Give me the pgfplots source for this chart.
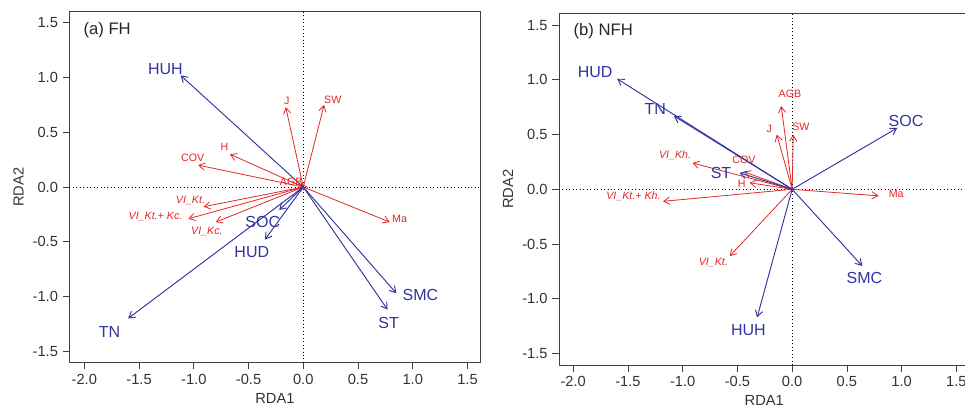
\documentclass[border=0pt]{standalone}
\usepackage{fontspec}
\setmainfont{Liberation Sans}
\usepackage{pgfplots}
\pgfplotsset{compat=1.18}
\usetikzlibrary{arrows.meta}
\definecolor{envblue}{RGB}{50,50,160}
\definecolor{vegred}{RGB}{228,38,38}

\pgfplotsset{
  rda/.style={
    x=82.1pt, y=82.1pt,
    xmin=-2.137, xmax=1.62, ymin=-1.605, ymax=1.605,
    xtick={-2,-1.5,...,1.5}, ytick={-1.5,-1,...,1.5},
    tick align=outside, xtick pos=bottom, ytick pos=left,
    major tick length=5pt,
    axis line style={black!75, line width=0.6pt},
    tick style={black!75, line width=0.6pt},
    tick label style={font=\fontsize{11}{13}\selectfont, text=black!80},
    label style={font=\fontsize{11}{13}\selectfont, text=black!80},
    /pgf/number format/fixed, /pgf/number format/fixed zerofill,
    /pgf/number format/precision=1, /pgf/number format/assume math mode=true,
    xlabel={RDA1}, ylabel={RDA2},
    clip=false,
  },
  env/.style={envblue, line width=0.7pt, -{Straight Barb[length=4.5pt,width=5.5pt]}},
  veg/.style={vegred, line width=0.6pt, -{Straight Barb[length=4.5pt,width=5.5pt]}},
  zero/.style={black, dotted, line width=0.6pt},
}
\newcommand{\envlab}[3]{\node[text=envblue, font=\fontsize{12}{14}\selectfont] at (axis cs:#1,#2) {#3};}
\newcommand{\veglab}[3]{\node[text=vegred, font=\fontsize{8}{10}\selectfont] at (axis cs:#1,#2) {#3};}

\begin{document}
\begin{tikzpicture}
\path[use as bounding box] (0,0) rectangle (723.75pt,306.75pt);

% (a) FH
\begin{axis}[rda, at={(52pt,34.7pt)}, anchor=south west]
\addplot[zero] coordinates {(-2.137,0) (1.62,0)};
\addplot[zero] coordinates {(0,-1.605) (0,1.605)};
% vegetation
\addplot[veg] coordinates {(0,0) (-0.16,0.73)};
\addplot[veg] coordinates {(0,0) (0.19,0.75)};
\addplot[veg] coordinates {(0,0) (-0.67,0.30)};
\addplot[veg] coordinates {(0,0) (-0.96,0.20)};
\addplot[veg] coordinates {(0,0) (-0.02,0.03)};
\addplot[veg] coordinates {(0,0) (-0.91,-0.18)};
\addplot[veg] coordinates {(0,0) (-1.05,-0.29)};
\addplot[veg] coordinates {(0,0) (-0.80,-0.32)};
\addplot[veg] coordinates {(0,0) (0.79,-0.32)};
% environment
\addplot[env] coordinates {(0,0) (-1.12,1.02)};
\addplot[env] coordinates {(0,0) (-0.22,-0.21)};
\addplot[env] coordinates {(0,0) (-0.35,-0.48)};
\addplot[env] coordinates {(0,0) (-1.60,-1.20)};
\addplot[env] coordinates {(0,0) (0.85,-0.97)};
\addplot[env] coordinates {(0,0) (0.77,-1.12)};
\veglab{-0.15}{0.79}{J}
\veglab{0.27}{0.80}{SW}
\veglab{-0.72}{0.37}{H}
\veglab{-1.01}{0.27}{COV}
\veglab{-0.11}{0.05}{AGB}
\veglab{-1.03}{-0.12}{\itshape VI\_Kt.}
\veglab{-1.35}{-0.27}{\itshape VI\_Kt.+ Kc.}
\veglab{-0.88}{-0.41}{\itshape VI\_Kc.}
\veglab{0.88}{-0.29}{Ma}
\envlab{-1.26}{1.08}{HUH}
\envlab{-0.37}{-0.32}{SOC}
\envlab{-0.47}{-0.59}{HUD}
\envlab{-1.77}{-1.32}{TN}
\envlab{1.07}{-0.99}{SMC}
\envlab{0.78}{-1.24}{ST}
\node[anchor=west, font=\fontsize{12.5}{14}\selectfont, text=black!85] at (axis cs:-2.05,1.43) {(a) FH};
\end{axis}

% (b) NFH
\begin{axis}[rda, at={(419.25pt,33pt)}, anchor=south west, xmin=-2.13]
\addplot[zero] coordinates {(-2.13,0) (1.62,0)};
\addplot[zero] coordinates {(0,-1.605) (0,1.605)};
% vegetation
\addplot[veg] coordinates {(0,0) (-0.10,0.76)};
\addplot[veg] coordinates {(0,0) (-0.14,0.50)};
\addplot[veg] coordinates {(0,0) (0.01,0.50)};
\addplot[veg] coordinates {(0,0) (-0.91,0.24)};
\addplot[veg] coordinates {(0,0) (-0.44,0.16)};
\addplot[veg] coordinates {(0,0) (-0.39,0.06)};
\addplot[veg] coordinates {(0,0) (-1.18,-0.11)};
\addplot[veg] coordinates {(0,0) (0.79,-0.06)};
\addplot[veg] coordinates {(0,0) (-0.57,-0.61)};
% environment
\addplot[env] coordinates {(0,0) (-1.60,1.01)};
\addplot[env] coordinates {(0,0) (-1.08,0.67)};
\addplot[env] coordinates {(0,0) (0.96,0.56)};
\addplot[env] coordinates {(0,0) (-0.48,0.15)};
\addplot[env] coordinates {(0,0) (0.64,-0.70)};
\addplot[env] coordinates {(0,0) (-0.32,-1.17)};
\veglab{-0.02}{0.87}{AGB}
\veglab{-0.21}{0.55}{J}
\veglab{0.08}{0.57}{SW}
\veglab{-1.07}{0.31}{\itshape VI\_Kh.}
\veglab{-0.44}{0.27}{COV}
\veglab{-0.46}{0.05}{H}
\veglab{-1.45}{-0.06}{\itshape VI\_Kt.+ Kh.}
\veglab{0.95}{-0.04}{Ma}
\veglab{-0.72}{-0.67}{\itshape VI\_Kt.}
\envlab{-1.80}{1.07}{HUD}
\envlab{-1.25}{0.73}{TN}
\envlab{1.04}{0.62}{SOC}
\envlab{-0.65}{0.15}{ST}
\envlab{0.66}{-0.81}{SMC}
\envlab{-0.40}{-1.29}{HUH}
\node[anchor=west, font=\fontsize{12.5}{14}\selectfont, text=black!85] at (axis cs:-2.04,1.44) {(b) NFH};
\end{axis}
\end{tikzpicture}
\end{document}
